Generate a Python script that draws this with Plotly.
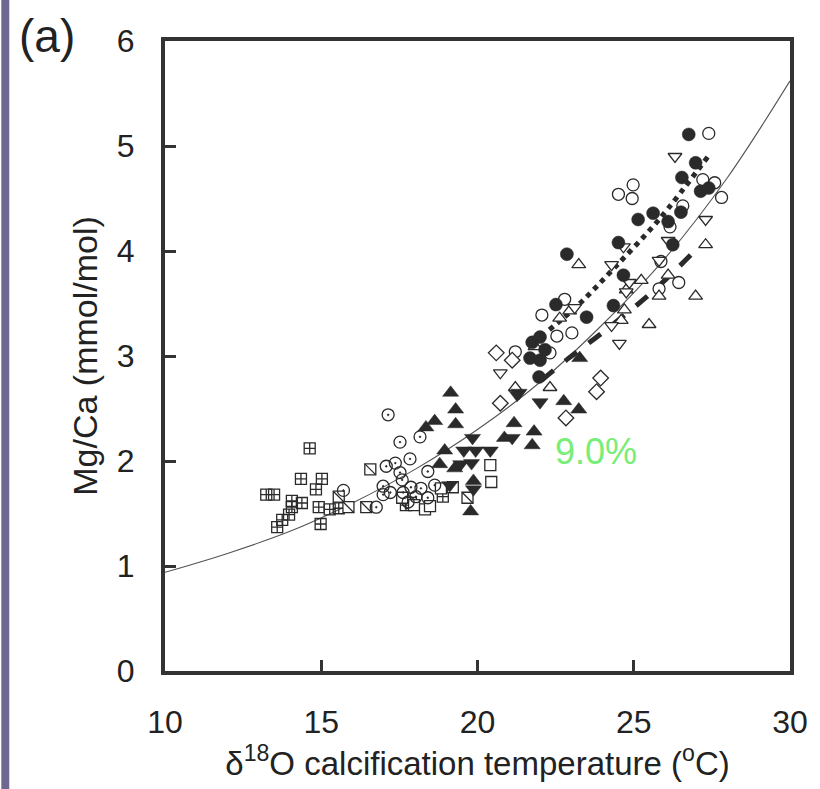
import plotly.graph_objects as go

# ---- data ----
sqcross_T = [14.63, 14.35, 15.02, 14.83, 13.24, 13.49, 14.06, 14.38, 14.06, 14.92, 15.27, 15.56, 13.97, 13.75, 13.59, 14.98, 18.89, 17.71, 17.87]
sqcross_Mg = [2.12, 1.83, 1.83, 1.73, 1.68, 1.68, 1.62, 1.60, 1.56, 1.56, 1.54, 1.55, 1.49, 1.44, 1.37, 1.40, 1.66, 1.58, 1.60]

sqdiag_T = [16.57, 15.56, 15.87, 16.44, 19.68]
sqdiag_Mg = [1.92, 1.66, 1.56, 1.56, 1.65]

sqopen_T = [17.59, 17.97, 18.32, 18.83, 19.21, 20.41, 20.44, 18.48]
sqopen_Mg = [1.65, 1.58, 1.54, 1.74, 1.75, 1.96, 1.80, 1.57]

cdot_T = [17.14, 17.52, 18.16, 17.84, 17.08, 17.37, 18.41, 17.52, 17.59, 17.87, 18.19, 18.63, 16.98, 16.98, 17.62, 15.71, 16.76, 18.03, 18.41, 17.78, 17.21]
cdot_Mg = [2.44, 2.18, 2.23, 2.02, 1.95, 1.98, 1.90, 1.89, 1.82, 1.75, 1.74, 1.77, 1.76, 1.68, 1.70, 1.72, 1.56, 1.66, 1.65, 1.61, 1.70]

triup_fill_T = [19.14, 19.30, 19.30, 18.35, 18.63, 18.95, 18.79, 19.27, 19.78, 19.87, 21.17, 20.86, 21.81, 21.75, 22.76, 23.24, 23.27]
triup_fill_Mg = [2.65, 2.49, 2.35, 2.32, 2.38, 2.10, 1.97, 1.93, 1.52, 1.81, 2.36, 2.22, 2.28, 2.15, 2.57, 2.49, 2.98]

tridn_fill_T = [19.84, 19.56, 19.94, 20.41, 19.46, 19.81, 19.11, 19.87, 22.00, 21.11, 21.33, 21.27]
tridn_fill_Mg = [2.22, 2.10, 2.10, 2.10, 1.97, 1.98, 1.77, 1.73, 2.56, 2.22, 2.65, 2.63]

circ_fill_T = [26.76, 26.98, 26.54, 27.14, 27.40, 25.62, 25.14, 26.10, 26.51, 24.51, 26.25, 22.86, 24.67, 24.35, 23.49, 22.51, 21.75, 22.00, 21.68, 22.00, 22.16, 21.97]
circ_fill_Mg = [5.11, 4.84, 4.70, 4.57, 4.60, 4.36, 4.30, 4.28, 4.37, 4.08, 4.06, 3.97, 3.77, 3.48, 3.37, 3.49, 3.13, 3.18, 2.98, 2.96, 3.06, 2.80]

circ_open_T = [27.40, 24.51, 24.98, 24.95, 27.21, 27.59, 27.81, 26.57, 26.16, 26.44, 25.81, 25.87, 22.79, 22.06, 23.02, 22.54, 22.32, 21.21]
circ_open_Mg = [5.12, 4.54, 4.63, 4.50, 4.68, 4.65, 4.51, 4.43, 4.23, 3.70, 3.64, 3.90, 3.54, 3.39, 3.22, 3.19, 3.03, 3.04]

triup_open_T = [23.24, 25.24, 24.76, 26.10, 25.81, 26.98, 24.70, 25.49, 22.95, 22.63, 27.30, 22.32, 21.21, 21.84, 24.60]
triup_open_Mg = [3.87, 3.72, 3.63, 3.77, 3.57, 3.57, 3.44, 3.30, 3.43, 3.36, 4.06, 2.70, 2.70, 3.09, 3.34]

tridn_open_T = [26.32, 27.30, 26.10, 24.67, 24.29, 25.81, 24.86, 24.76, 24.29, 24.54, 20.73, 23.11]
tridn_open_Mg = [4.90, 4.30, 4.10, 4.04, 3.87, 3.91, 3.70, 3.61, 3.29, 3.12, 2.84, 3.46]

diam_T = [20.60, 21.11, 23.94, 23.81, 20.73, 22.83]
diam_Mg = [3.03, 2.96, 2.79, 2.66, 2.55, 2.41]

# fitted curve (thin line), read at whole degrees
fit_T = [10, 12, 14, 16, 18, 20, 22, 24, 26, 28, 30]
fit_Mg = [0.94, 1.12, 1.33, 1.60, 1.92, 2.30, 2.75, 3.30, 3.93, 4.70, 5.62]

# dotted and dashed lines
dot_T = [22.3, 23.27, 24.38, 25.81, 27.40]
dot_Mg = [3.25, 3.50, 3.84, 4.30, 4.91]
dash_T = [22.06, 22.92, 23.90, 25.40, 26.41, 27.14]
dash_Mg = [2.77, 2.98, 3.20, 3.56, 3.84, 4.06]

label_text = "9.0%"
x_ticks = [10, 15, 20, 25, 30]
y_ticks = [0, 1, 2, 3, 4, 5, 6]

# ---- figure ----
ink = "#2a2a2a"
fig = go.Figure()

fig.add_trace(go.Scatter(x=fit_T, y=fit_Mg, mode="lines", line=dict(color="#555555", width=1.1, shape="spline"),
                         hoverinfo="skip"))
fig.add_trace(go.Scatter(x=dot_T, y=dot_Mg, mode="lines", line=dict(color=ink, width=5, dash="dot", shape="spline"),
                         hoverinfo="skip"))
fig.add_trace(go.Scatter(x=dash_T, y=dash_Mg, mode="lines", line=dict(color=ink, width=5, dash="dash", shape="spline"),
                         hoverinfo="skip"))


def add_pts(xs, ys, symbol, size, fill="white", lw=1.3):
    fig.add_trace(go.Scatter(
        x=xs, y=ys, mode="markers",
        marker=dict(symbol=symbol, size=size, color=fill,
                    line=dict(color=ink, width=lw)),
    ))


add_pts(sqcross_T, sqcross_Mg, "square-cross-open", 11, fill=ink, lw=1.3)
add_pts(sqdiag_T, sqdiag_Mg, "square", 11, lw=1.3)
fig.add_trace(go.Scatter(x=sqdiag_T, y=sqdiag_Mg, mode="markers",
                         marker=dict(symbol="line-nw", size=11, color=ink, line=dict(color=ink, width=1.3))))
add_pts(sqopen_T, sqopen_Mg, "square", 11, lw=1.3)
add_pts(cdot_T, cdot_Mg, "circle-open-dot", 12, fill=ink, lw=1.3)
add_pts(circ_open_T, circ_open_Mg, "circle", 12, lw=1.3)
add_pts(diam_T, diam_Mg, "diamond", 12, lw=1.3)
add_pts(triup_open_T, triup_open_Mg, "triangle-up", 12, lw=1.3)
add_pts(tridn_open_T, tridn_open_Mg, "triangle-down", 12, lw=1.3)
add_pts(triup_fill_T, triup_fill_Mg, "triangle-up", 14, fill=ink, lw=0.5)
add_pts(tridn_fill_T, tridn_fill_Mg, "triangle-down", 14, fill=ink, lw=0.5)
add_pts(circ_fill_T, circ_fill_Mg, "circle", 13, fill=ink, lw=0.5)

fig.add_annotation(x=23.78, y=2.09, xref="x", yref="y", text=label_text, showarrow=False,
                   font=dict(size=36, color="#77ee77", family="Liberation Sans"))
fig.add_annotation(x=-0.189, y=1.008, xref="paper", yref="paper", text="(a)", showarrow=False,
                   xanchor="center", yanchor="middle",
                   font=dict(size=46, color="#222222", family="Liberation Sans"))

fig.add_shape(type="rect", xref="paper", yref="paper", x0=-0.2619, x1=-0.2492, y0=-0.2, y1=1.1,
              fillcolor="#6e6890", line=dict(width=0), layer="below")

axis_common = dict(showgrid=False, zeroline=False, showline=True, linecolor="#333333", linewidth=4,
                   mirror=True, ticks="inside", ticklen=11, tickwidth=3, tickcolor="#333333",
                   tickfont=dict(size=32, color="#222222", family="Liberation Sans"))

fig.update_layout(
    width=820, height=789,
    margin=dict(l=165, r=25, t=41, b=118),
    paper_bgcolor="white", plot_bgcolor="white",
    showlegend=False,
    font=dict(family="Liberation Sans", color="#222222"),
    xaxis=dict(range=[10, 30], tickvals=x_ticks, ticklabelstandoff=20,
               title=dict(text="δ<sup>18</sup>O calcification temperature (<sup>o</sup>C)",
                          font=dict(size=33, color="#222222"), standoff=12),
               **axis_common),
    yaxis=dict(range=[0, 6], tickvals=y_ticks, ticklabelstandoff=20,
               title=dict(text="Mg/Ca (mmol/mol)", font=dict(size=34, color="#222222"), standoff=10),
               **axis_common),
)

fig.write_html("out.html", config={"displayModeBar": False},
               post_script="document.body.style.margin='0';document.body.style.overflow='hidden';")
